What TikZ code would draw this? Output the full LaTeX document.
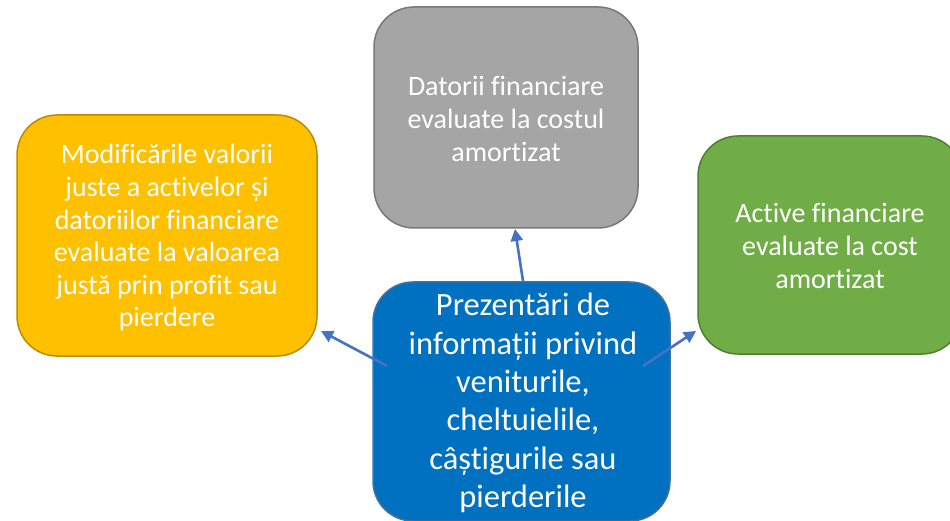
\documentclass[tikz,border=0pt]{standalone}
\usepackage{fontspec}
\setmainfont{Carlito}[Ligatures=CommonOff]
\usetikzlibrary{arrows.meta}
\definecolor{grayfill}{HTML}{A5A5A5}
\definecolor{grayline}{HTML}{787878}
\definecolor{yelfill}{HTML}{FFC000}
\definecolor{yelline}{HTML}{BC8C00}
\definecolor{grnfill}{HTML}{70AD47}
\definecolor{grnline}{HTML}{507E32}
\definecolor{blufill}{HTML}{0070C0}
\definecolor{bluline}{HTML}{41719C}
\definecolor{arrowcol}{HTML}{4472C4}
\tikzset{
  box/.style={rounded corners=40pt, line width=1.5pt},
  smalltext/.style={font=\fontsize{28}{32.6}\selectfont, text=white, align=center, inner sep=0pt},
  bigtext/.style={font=\fontsize{32.5}{38.3}\selectfont, text=white, align=center, inner sep=0pt},
  link/.style={draw=arrowcol, line width=2.6pt, -{Triangle[length=12pt,width=12pt]}}
}
\begin{document}
\begin{tikzpicture}[x=1pt,y=-1pt]
\useasboundingbox (0,0) rectangle (950,521);
\clip (0,0) rectangle (950,521);
% boxes
\draw[box, fill=grayfill, draw=grayline] (374,7) rectangle (638,228);
\node[smalltext] (gray) at (506,119)
  {Datorii financiare\\evaluate la costul\\amortizat};
\draw[box, fill=yelfill, draw=yelline] (17,115) rectangle (317,356);
\node[smalltext] (yellow) at (167,238)
  {Modificările valorii\\juste a activelor și\\datoriilor financiare\\evaluate la valoarea\\justă prin profit sau\\pierdere};
\draw[box, fill=grnfill, draw=grnline] (698,136) rectangle (962,354);
\node[smalltext] (green) at (830,246)
  {Active financiare\\evaluate la cost\\amortizat};
\draw[box, fill=blufill, draw=bluline] (373,282) rectangle (670,521);
\node[bigtext] (blue) at (523,403)
  {Prezentări de\\informații privind\\veniturile,\\cheltuielile,\\câștigurile sau\\pierderile};
% connector end points
\coordinate (upS) at (523,281);
\coordinate (upE) at (515,229);
\coordinate (lfS) at (387,366);
\coordinate (lfE) at (321,331);
\coordinate (rtS) at (643,366);
\coordinate (rtE) at (696,331);
\draw[link] (upS) -- (upE);
\draw[link] (lfS) -- (lfE);
\draw[link] (rtS) -- (rtE);
\end{tikzpicture}
\end{document}
